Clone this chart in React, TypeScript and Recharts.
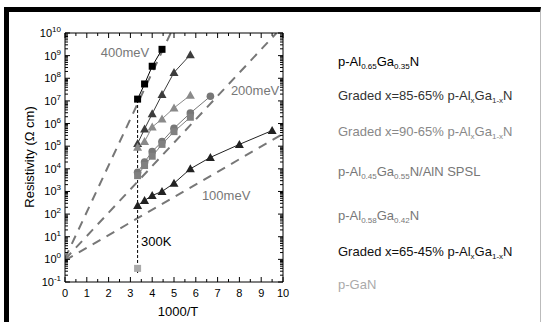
import React from "react";
import {
  ComposedChart,
  Scatter,
  XAxis,
  YAxis,
  ReferenceLine,
  ReferenceDot,
} from "recharts";

// 1000/T positions of the measured points
const xAlGaN65 = [3.33, 3.65, 4.0, 4.45];
const xGraded = [3.33, 3.65, 4.0, 4.45, 5.0, 5.75];
const xSpsl = [3.33, 3.65, 4.0, 4.45, 5.0, 5.75, 6.67];
const xGraded6545 = [3.33, 3.65, 4.0, 4.45, 5.0, 5.75, 6.67, 8.0, 9.5];
const xGaN = [3.33];

// resistivity (ohm cm)
const rAlGaN65 = [1.2e7, 5.6e7, 3.4e8, 1.9e9];
const rGraded8565 = [1.3e5, 5.8e5, 2.7e6, 1.9e7, 1.8e8, 1.1e9];
const rGraded9065 = [9e4, 1.6e5, 7e5, 1.6e6, 4.9e6, 1.8e7];
const rSpsl = [7e3, 2e4, 5.8e4, 1.6e5, 6.2e5, 2.9e6, 1.6e7];
const rAlGaN58 = [5e3, 1.4e4, 3.6e4, 1.2e5, 4.4e5, 1.9e6];
const rGraded6545 = [2.4e2, 4e2, 6.6e2, 1e3, 2.3e3, 1e4, 3.2e4, 1.2e5, 4.9e5];
const rGaN = [0.4];

// activation energy guide lines, end points
const line400 = [{ x: 0, y: 1.1 }, { x: 4.85, y: 1e10 }];
const line200 = [{ x: 0, y: 1.0 }, { x: 9.7, y: 1e10 }];
const line100 = [{ x: 0, y: 0.9 }, { x: 10, y: 3.5e5 }];
const line300K = [{ x: 3.33, y: 0.25 }, { x: 3.33, y: 1.2e7 }];

const xTicks = [0, 0.5, 1, 1.5, 2, 2.5, 3, 3.5, 4, 4.5, 5, 5.5, 6, 6.5, 7, 7.5, 8, 8.5, 9, 9.5, 10];
const decades = [-1, 0, 1, 2, 3, 4, 5, 6, 7, 8, 9, 10];
const minors = [1, 2, 3, 4, 5, 6, 7, 8, 9];

const yTicks: number[] = [];
decades.forEach((e) => {
  minors.forEach((m) => {
    if (e < 10 || m === 1) yTicks.push(m * Math.pow(10, e));
  });
});

const zip = (xs: number[], ys: number[]) => xs.map((x, i) => ({ x, y: ys[i] }));

const series = [
  { name: "p-Al0.65", data: zip(xAlGaN65, rAlGaN65), color: "#000", shape: "square" },
  { name: "graded85", data: zip(xGraded, rGraded8565), color: "#3c3c3c", shape: "triangle" },
  { name: "graded90", data: zip(xGraded, rGraded9065), color: "#8a8a8a", shape: "triangle" },
  { name: "spsl", data: zip(xSpsl, rSpsl), color: "#777", shape: "circle" },
  { name: "p-Al0.58", data: zip(xGraded, rAlGaN58), color: "#808080", shape: "square" },
  { name: "graded65", data: zip(xGraded6545, rGraded6545), color: "#222", shape: "triangle" },
  { name: "gan", data: zip(xGaN, rGaN), color: "#aaa", shape: "square" },
];

const FONT = "'Liberation Sans', Arial, sans-serif";

function makeMarker(shape: string, color: string) {
  return (p: any) => {
    const { cx, cy } = p;
    if (cx == null || cy == null) return <g />;
    if (shape === "square") {
      return <rect x={cx - 3.5} y={cy - 3.5} width={7} height={7} fill={color} />;
    }
    if (shape === "circle") {
      return <circle cx={cx} cy={cy} r={3.8} fill={color} />;
    }
    return (
      <polygon
        points={`${cx},${cy - 4.5} ${cx - 4.5},${cy + 3.5} ${cx + 4.5},${cy + 3.5}`}
        fill={color}
      />
    );
  };
}

const isMajor = (v: number) => Math.abs(Math.log10(v) - Math.round(Math.log10(v))) < 1e-6;

function BottomTick(props: any) {
  const { x, y, payload } = props;
  const v = payload.value;
  const major = Number.isInteger(v);
  return (
    <g>
      <line x1={x} x2={x} y1={y} y2={y - (major ? 5 : 3)} stroke="#000" />
      {major && (
        <text x={x} y={y + 15} textAnchor="middle" fontSize={11} fontFamily={FONT} fill="#000">
          {v}
        </text>
      )}
    </g>
  );
}

function TopTick(props: any) {
  const { x, y, payload } = props;
  const major = Number.isInteger(payload.value);
  return <line x1={x} x2={x} y1={y} y2={y + (major ? 5 : 3)} stroke="#000" />;
}

function LeftTick(props: any) {
  const { x, y, payload } = props;
  const v = payload.value;
  const major = isMajor(v);
  const e = Math.round(Math.log10(v));
  return (
    <g>
      <line x1={x} x2={x + (major ? 5 : 3)} y1={y} y2={y} stroke="#000" />
      {major && (
        <text x={x - 4} y={y + 4} textAnchor="end" fontSize={11} fontFamily={FONT} fill="#000">
          10
          <tspan dy={-5} fontSize={8}>
            {e}
          </tspan>
        </text>
      )}
    </g>
  );
}

function RightTick(props: any) {
  const { x, y, payload } = props;
  const major = isMajor(payload.value);
  return <line x1={x} x2={x - (major ? 5 : 3)} y1={y} y2={y} stroke="#000" />;
}

function textDot(label: string, color: string, anchor: string) {
  return (p: any) => (
    <text
      x={p.cx}
      y={p.cy}
      dy={5}
      textAnchor={anchor}
      fontSize={13}
      fontFamily={FONT}
      fill={color}
    >
      {label}
    </text>
  );
}

const Sub = ({ children }: { children: React.ReactNode }) => (
  <span style={{ fontSize: 8, position: "relative", top: 3 }}>{children}</span>
);

const legend = [
  { y: 62, color: "#000", content: <>p-Al<Sub>0.65</Sub>Ga<Sub>0.35</Sub>N</> },
  { y: 96, color: "#333", content: <>Graded x=85-65% p-Al<Sub>x</Sub>Ga<Sub>1-x</Sub>N</> },
  { y: 132, color: "#888", content: <>Graded x=90-65% p-Al<Sub>x</Sub>Ga<Sub>1-x</Sub>N</> },
  { y: 172, color: "#777", content: <>p-Al<Sub>0.45</Sub>Ga<Sub>0.55</Sub>N/AlN SPSL</> },
  { y: 216, color: "#777", content: <>p-Al<Sub>0.58</Sub>Ga<Sub>0.42</Sub>N</> },
  { y: 252, color: "#111", content: <>Graded x=65-45% p-Al<Sub>x</Sub>Ga<Sub>1-x</Sub>N</> },
  { y: 285, color: "#aaa", content: <>p-GaN</> },
];

const dash = { stroke: "#777", strokeWidth: 2, strokeDasharray: "9 7" };

export default function App() {
  return (
    <div
      style={{
        position: "absolute",
        left: 0,
        top: 0,
        width: 541,
        height: 322,
        overflow: "hidden",
        background: "#fff",
        fontFamily: FONT,
      }}
    >
      <div
        style={{
          position: "absolute",
          left: 4,
          top: 7,
          width: 537,
          height: 330,
          boxSizing: "border-box",
          borderTop: "5px solid #000",
          borderLeft: "5px solid #000",
          borderRight: "1px solid #bbb",
        }}
      />
      <div style={{ position: "absolute", left: 0, top: 0 }}>
        <ComposedChart width={300} height={322} margin={{ top: 32, right: 16, bottom: 39, left: 64 }}>
          <XAxis
            dataKey="x"
            type="number"
            domain={[0, 10]}
            ticks={xTicks}
            interval={0}
            height={1}
            tickSize={0}
            tickMargin={0}
            tickLine={false}
            axisLine={{ stroke: "#000" }}
            tick={<BottomTick />}
            allowDataOverflow
          />
          <XAxis
            xAxisId="top"
            orientation="top"
            dataKey="x"
            type="number"
            domain={[0, 10]}
            ticks={xTicks}
            interval={0}
            height={1}
            tickSize={0}
            tickMargin={0}
            tickLine={false}
            axisLine={{ stroke: "#000" }}
            tick={<TopTick />}
            allowDataOverflow
          />
          <YAxis
            dataKey="y"
            type="number"
            scale="log"
            domain={[0.1, 1e10]}
            ticks={yTicks}
            interval={0}
            width={1}
            tickSize={0}
            tickMargin={0}
            tickLine={false}
            axisLine={{ stroke: "#000" }}
            tick={<LeftTick />}
            allowDataOverflow
          />
          <YAxis
            yAxisId="right"
            orientation="right"
            dataKey="y"
            type="number"
            scale="log"
            domain={[0.1, 1e10]}
            ticks={yTicks}
            interval={0}
            width={1}
            tickSize={0}
            tickMargin={0}
            tickLine={false}
            axisLine={{ stroke: "#000" }}
            tick={<RightTick />}
            allowDataOverflow
          />
          <ReferenceLine segment={line400} {...dash} ifOverflow="hidden" />
          <ReferenceLine segment={line200} {...dash} ifOverflow="hidden" />
          <ReferenceLine segment={line100} {...dash} ifOverflow="hidden" />
          <ReferenceLine segment={line300K} stroke="#000" strokeWidth={1} strokeDasharray="3 2" />
          {series.map((s) => (
            <Scatter
              key={s.name}
              data={s.data}
              line={{ stroke: s.color, strokeWidth: 1 }}
              shape={makeMarker(s.shape, s.color)}
              isAnimationActive={false}
            />
          ))}
          <Scatter
            xAxisId="top"
            yAxisId="right"
            data={series[6].data}
            shape={() => <g />}
            isAnimationActive={false}
          />
          <ReferenceDot x={2.75} y={1.45e9} r={0} shape={textDot("400meV", "#777", "middle")} ifOverflow="visible" />
          <ReferenceDot x={8.72} y={3e7} r={0} shape={textDot("200meV", "#777", "middle")} ifOverflow="visible" />
          <ReferenceDot x={7.39} y={690} r={0} shape={textDot("100meV", "#777", "middle")} ifOverflow="visible" />
          <ReferenceDot x={3.49} y={6.5} r={0} shape={textDot("300K", "#000", "start")} ifOverflow="visible" />
        </ComposedChart>
      </div>
      <svg
        width={300}
        height={322}
        style={{ position: "absolute", left: 0, top: 0, pointerEvents: "none" }}
      >
        <text
          x={0}
          y={0}
          transform="translate(34,157) rotate(-90)"
          textAnchor="middle"
          fontSize={13}
          fontFamily={FONT}
          fill="#000"
        >
          Resistivity (Ω cm)
        </text>
        <text x={178} y={316} textAnchor="middle" fontSize={13} fontFamily={FONT} fill="#000">
          1000/T
        </text>
      </svg>
      {legend.map((l, i) => (
        <div
          key={i}
          style={{
            position: "absolute",
            left: 338,
            top: l.y - 9,
            fontSize: 13,
            lineHeight: "18px",
            color: l.color,
            whiteSpace: "nowrap",
          }}
        >
          {l.content}
        </div>
      ))}
    </div>
  );
}
